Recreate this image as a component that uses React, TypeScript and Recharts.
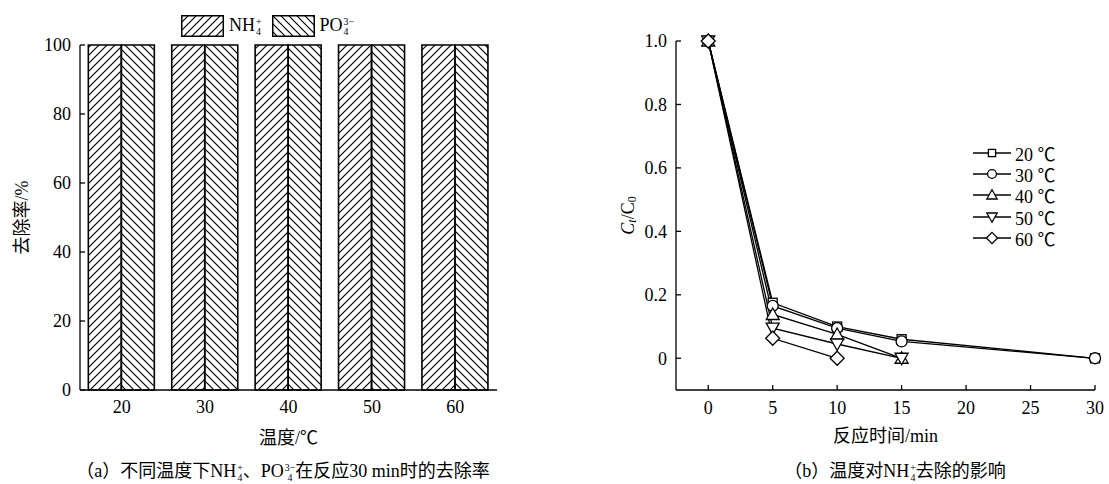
import React from "react";
import { BarChart, Bar, XAxis, YAxis, Legend, LineChart, Line } from "recharts";

const FONT = '"Liberation Serif", "Times New Roman", "Noto Sans CJK SC", serif';

// (a) removal at 30 min
const temps = ["20", "30", "40", "50", "60"];
const nh4Removal = [100, 100, 100, 100, 100];
const po4Removal = [100, 100, 100, 100, 100];
const removalTicks = [0, 20, 40, 60, 80, 100];

// (b) Ct/C0 vs time
const timeTicks = [0, 5, 10, 15, 20, 25, 30];
const ratioTicks = [0, 0.2, 0.4, 0.6, 0.8, 1.0];
const seriesLabels = ["20 ℃", "30 ℃", "40 ℃", "50 ℃", "60 ℃"];
const markerKinds = ["square", "circle", "up", "down", "diamond"];
const times20 = [0, 5, 10, 15, 30];
const ratio20 = [1.0, 0.175, 0.1, 0.06, 0];
const times30 = [0, 5, 10, 15, 30];
const ratio30 = [1.0, 0.165, 0.095, 0.053, 0];
const times40 = [0, 5, 10, 15];
const ratio40 = [1.0, 0.138, 0.075, 0];
const times50 = [0, 5, 10, 15];
const ratio50 = [1.0, 0.095, 0.045, 0];
const times60 = [0, 5, 10];
const ratio60 = [1.0, 0.063, 0];

const removalData = temps.map((t, i) => ({ temp: t, nh4: nh4Removal[i], po4: po4Removal[i] }));
const toPoints = (ts: number[], rs: number[]) => ts.map((time, i) => ({ time, ratio: rs[i] }));
const series = [
  toPoints(times20, ratio20),
  toPoints(times30, ratio30),
  toPoints(times40, ratio40),
  toPoints(times50, ratio50),
  toPoints(times60, ratio60),
];

function Ion({ base, sub, sup }: { base: string; sub: string; sup: string }) {
  return (
    <span style={{ whiteSpace: "nowrap" }}>
      {base}
      <span
        style={{
          display: "inline-flex",
          flexDirection: "column",
          fontSize: "0.55em",
          lineHeight: 1,
          verticalAlign: "0.6em",
          marginLeft: 1,
        }}
      >
        <span>{sup}</span>
        <span>{sub}</span>
      </span>
    </span>
  );
}

function HatchDefs({ prefix }: { prefix: string }) {
  return (
    <defs>
      <pattern id={`${prefix}-fwd`} patternUnits="userSpaceOnUse" width={8} height={8}>
        <path d="M-1,1 l2,-2 M0,8 l8,-8 M7,9 l2,-2" stroke="#000" strokeWidth={1.2} />
      </pattern>
      <pattern id={`${prefix}-back`} patternUnits="userSpaceOnUse" width={8} height={8}>
        <path d="M-1,7 l2,2 M0,0 l8,8 M7,-1 l2,2" stroke="#000" strokeWidth={1.2} />
      </pattern>
    </defs>
  );
}

function MarkerGlyph({ kind, cx, cy, s = 1 }: { kind: string; cx: number; cy: number; s?: number }) {
  const common = { fill: "#fff", stroke: "#000", strokeWidth: 1.3 };
  if (kind === "square") return <rect x={cx - 4.5 * s} y={cy - 4.5 * s} width={9 * s} height={9 * s} {...common} />;
  if (kind === "circle") return <circle cx={cx} cy={cy} r={5.5 * s} {...common} />;
  if (kind === "up")
    return (
      <polygon
        points={`${cx},${cy - 6.5 * s} ${cx + 6.5 * s},${cy + 5 * s} ${cx - 6.5 * s},${cy + 5 * s}`}
        {...common}
      />
    );
  if (kind === "down")
    return (
      <polygon
        points={`${cx},${cy + 6.5 * s} ${cx + 6.5 * s},${cy - 5 * s} ${cx - 6.5 * s},${cy - 5 * s}`}
        {...common}
      />
    );
  return (
    <polygon
      points={`${cx},${cy - 7 * s} ${cx + 7 * s},${cy} ${cx},${cy + 7 * s} ${cx - 7 * s},${cy}`}
      {...common}
    />
  );
}

function RemovalLegend() {
  const swatch = (id: string, dir: string) => (
    <svg width={43} height={22} style={{ display: "block" }}>
      <HatchDefs prefix={id} />
      <rect x={0.75} y={0.75} width={41.5} height={20.5} fill={`url(#${id}-${dir})`} stroke="#000" strokeWidth={1.5} />
    </svg>
  );
  return (
    <div style={{ display: "flex", alignItems: "center", fontFamily: FONT, fontSize: 18, color: "#000" }}>
      {swatch("lgA", "fwd")}
      <span style={{ marginLeft: 5, marginRight: 10 }}>
        <Ion base="NH" sub="4" sup="+" />
      </span>
      {swatch("lgB", "back")}
      <span style={{ marginLeft: 5 }}>
        <Ion base="PO" sub="4" sup="3−" />
      </span>
    </div>
  );
}

function TempLegend() {
  return (
    <div style={{ fontFamily: FONT, fontSize: 18, color: "#000" }}>
      {seriesLabels.map((label, i) => (
        <div key={label} style={{ display: "flex", alignItems: "center", height: 21.3 }}>
          <svg width={38} height={16} style={{ display: "block" }}>
            <line x1={0} y1={8} x2={38} y2={8} stroke="#000" strokeWidth={1.3} />
            <MarkerGlyph kind={markerKinds[i]} cx={19} cy={8} s={0.8} />
          </svg>
          <span style={{ marginLeft: 4 }}>{label}</span>
        </div>
      ))}
    </div>
  );
}

function RemovalYLabel(props: any) {
  const vb = props.viewBox || { x: 0, y: 45, height: 345 };
  const cx = 22;
  const cy = vb.y + vb.height / 2;
  return (
    <text x={cx} y={cy} transform={`rotate(-90 ${cx} ${cy})`} textAnchor="middle" dominantBaseline="central" fontFamily={FONT} fontSize={18} fill="#000">
      去除率/%
    </text>
  );
}

function RatioYLabel(props: any) {
  const vb = props.viewBox || { x: 0, y: 41, height: 349 };
  const cx = 68;
  const cy = vb.y + vb.height / 2;
  return (
    <text x={cx} y={cy} transform={`rotate(-90 ${cx} ${cy})`} textAnchor="middle" dominantBaseline="central" fontFamily={FONT} fontSize={18} fill="#000">
      <tspan fontStyle="italic">C</tspan>
      <tspan fontStyle="italic" fontSize={12} dy={4}>t</tspan>
      <tspan dy={-4}>/C</tspan>
      <tspan fontSize={12} dy={4}>0</tspan>
    </text>
  );
}

const tickStyle = { fill: "#000", fontSize: 18, fontFamily: FONT };
const axisLine = { stroke: "#000", strokeWidth: 1.3 };

export default function App() {
  return (
    <div
      style={{
        position: "absolute",
        left: 0,
        top: 0,
        width: 1109,
        height: 484,
        background: "#fff",
        fontFamily: FONT,
        overflow: "hidden",
      }}
    >
      <div style={{ position: "absolute", left: 0, top: 0 }}>
        <BarChart
          width={520}
          height={450}
          data={removalData}
          margin={{ top: 45, right: 23, left: 0, bottom: 0 }}
          barCategoryGap="10%"
          barGap={0}
        >
          <HatchDefs prefix="bar" />
          <XAxis
            dataKey="temp"
            height={60}
            axisLine={axisLine}
            tickLine={false}
            tickSize={0}
            tickMargin={10}
            tick={tickStyle}
            label={{ value: "温度/℃", position: "insideBottom", offset: 6, fill: "#000", fontSize: 18, fontFamily: FONT }}
          />
          <YAxis
            width={80}
            domain={[0, 100]}
            ticks={removalTicks}
            axisLine={axisLine}
            tickLine={{ stroke: "#000", strokeWidth: 1.3 }}
            tickSize={-5}
            tickMargin={14}
            tick={tickStyle}
            label={<RemovalYLabel />}
          />
          <Legend
            layout="horizontal"
            verticalAlign="middle"
            align="center"
            content={() => <RemovalLegend />}
            wrapperStyle={{ left: 181, top: 15, width: 240, height: 24 }}
          />
          <Bar dataKey="nh4" name="NH4+" fill="url(#bar-fwd)" stroke="#000" strokeWidth={1.6} isAnimationActive={false} />
          <Bar dataKey="po4" name="PO43-" fill="url(#bar-back)" stroke="#000" strokeWidth={1.6} isAnimationActive={false} />
        </BarChart>
      </div>

      <div style={{ position: "absolute", left: 560, top: 0 }}>
        <LineChart width={549} height={450} margin={{ top: 41, right: 14, left: 0, bottom: 0 }}>
          <XAxis
            dataKey="time"
            type="number"
            domain={[-2.5, 30]}
            ticks={timeTicks}
            height={60}
            axisLine={axisLine}
            tickLine={{ stroke: "#000", strokeWidth: 1.3 }}
            tickSize={-5}
            tickMargin={16}
            tick={tickStyle}
            label={{ value: "反应时间/min", position: "insideBottom", offset: 8, fill: "#000", fontSize: 18, fontFamily: FONT }}
          />
          <YAxis
            type="number"
            width={116}
            domain={[-0.1, 1]}
            ticks={ratioTicks}
            axisLine={axisLine}
            tickLine={{ stroke: "#000", strokeWidth: 1.3 }}
            tickSize={-5}
            tickMargin={14}
            tick={tickStyle}
            tickFormatter={(v: number) => (v === 0 ? "0" : v.toFixed(1))}
            label={<RatioYLabel />}
          />
          <Legend
            layout="horizontal"
            verticalAlign="middle"
            align="center"
            content={() => <TempLegend />}
            wrapperStyle={{ left: 413, top: 142, width: 120, height: 110 }}
          />
          {series.map((pts, i) => (
            <Line
              key={seriesLabels[i]}
              data={pts}
              dataKey="ratio"
              name={seriesLabels[i]}
              stroke="#000"
              strokeWidth={1.3}
              isAnimationActive={false}
              dot={(p: any) => (
                <MarkerGlyph key={`${markerKinds[i]}-${p.index}`} kind={markerKinds[i]} cx={p.cx} cy={p.cy} />
              )}
              activeDot={false}
            />
          ))}
        </LineChart>
      </div>

      <div
        style={{
          position: "absolute",
          left: 0,
          width: 566,
          top: 456,
          textAlign: "center",
          fontSize: 18,
          color: "#000",
          whiteSpace: "nowrap",
        }}
      >
        （a）不同温度下<Ion base="NH" sub="4" sup="+" />、<Ion base="PO" sub="4" sup="3−" />在反应30 min时的去除率
      </div>
      <div
        style={{
          position: "absolute",
          left: 680,
          width: 430,
          top: 456,
          textAlign: "center",
          fontSize: 18,
          color: "#000",
          whiteSpace: "nowrap",
        }}
      >
        （b）温度对<Ion base="NH" sub="4" sup="+" />去除的影响
      </div>
    </div>
  );
}
